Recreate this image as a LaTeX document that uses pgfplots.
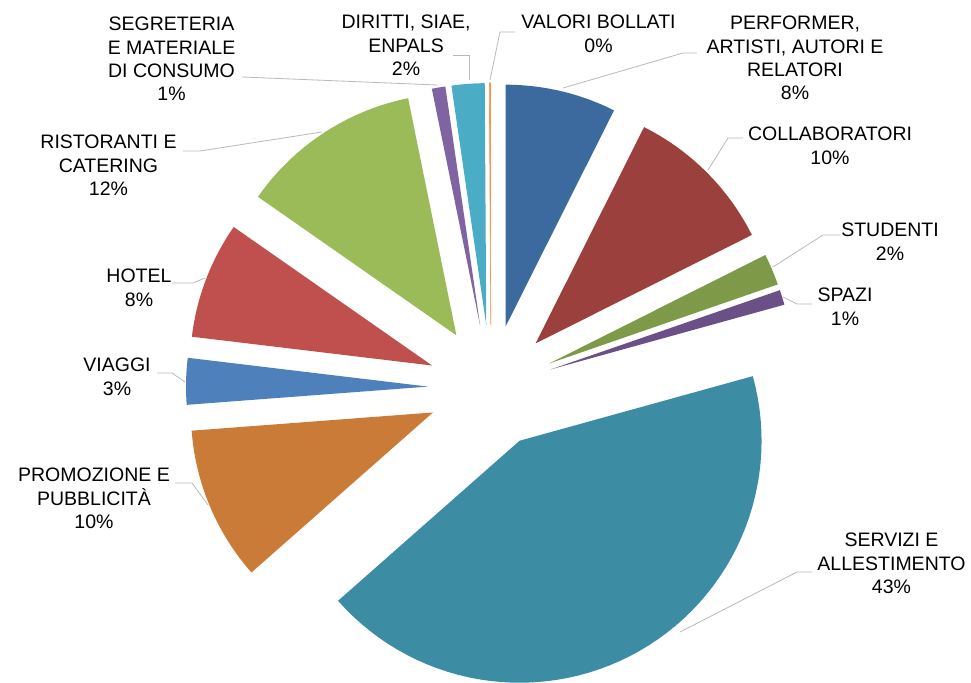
\documentclass[border=0pt]{standalone}
\usepackage{pgfplots}
\pgfplotsset{compat=1.18}
\usepackage{fontspec}
\setmainfont{Liberation Sans}
\definecolor{cPerf}{HTML}{3D6A9E}
\definecolor{cColl}{HTML}{9C403D}
\definecolor{cStud}{HTML}{7E9A48}
\definecolor{cSpaz}{HTML}{6A5087}
\definecolor{cServ}{HTML}{3C8CA3}
\definecolor{cProm}{HTML}{CB7B38}
\definecolor{cViag}{HTML}{4E80BC}
\definecolor{cHote}{HTML}{C0504D}
\definecolor{cRist}{HTML}{9BBB59}
\definecolor{cSegr}{HTML}{8064A2}
\definecolor{cDiri}{HTML}{4BACC6}
\definecolor{cValo}{HTML}{F79646}
\tikzset{
  lab/.style={anchor=north, inner sep=0pt, align=center, text=black,
    font=\fontsize{19.5}{23.3}\selectfont},
  leader/.style={draw=gray!55, line width=0.8pt}}
% #1 start (percent), #2 value (percent), #3 explosion, #4 colour
\newcommand{\slice}[4]{%
  \addplot[fill=#4, draw=none, domain=0:60, samples=61, variable=\k]
  ({491 + #3*sin(1.8*(2*#1+#2)) + ifthenelse(\k<0.5, 0, 242*sin(3.6*(#1+#2*(\k-1)/59)))},
   {294 + #3*cos(1.8*(2*#1+#2)) + ifthenelse(\k<0.5, 0, 242*cos(3.6*(#1+#2*(\k-1)/59)))});
}
\begin{document}
\begin{tikzpicture}
\begin{axis}[width=971pt, height=682pt, scale only axis,
  xmin=0, xmax=971, ymin=0, ymax=682, hide axis, clip=false]
\path (axis cs:0,0) rectangle (axis cs:971,682);
% start, value, explosion, colour
\slice{0}{7.4}{63}{cPerf}
\slice{7.4}{10.2}{63}{cColl}
\slice{17.6}{2.1}{63}{cStud}
\slice{19.7}{1.0}{63}{cSpaz}
\slice{20.7}{42.8}{60}{cServ}
\slice{63.5}{10.3}{63}{cProm}
\slice{73.8}{3.1}{63}{cViag}
\slice{76.9}{7.8}{63}{cHote}
\slice{84.7}{12.1}{63}{cRist}
\slice{96.8}{0.9}{63}{cSegr}
\slice{97.7}{2.2}{63}{cDiri}
\addplot[fill=cValo, draw=cValo, line width=0.6pt, domain=0:60, samples=61, variable=\k]
  ({491 + 63*sin(1.8*(2*99.9+0.1)) + ifthenelse(\k<0.5, 0, 242*sin(3.6*(99.9+0.1*(\k-1)/59)))},
   {294 + 63*cos(1.8*(2*99.9+0.1)) + ifthenelse(\k<0.5, 0, 242*cos(3.6*(99.9+0.1*(\k-1)/59)))});
% leader lines
\draw[leader] (axis cs:563,594) -- (axis cs:683,629) -- (axis cs:697,629);
\draw[leader] (axis cs:490,602) -- (axis cs:500,650) -- (axis cs:515,650);
\draw[leader] (axis cs:469,602) -- (axis cs:469,627) -- (axis cs:453,627);
\draw[leader] (axis cs:437,597) -- (axis cs:242,605);
\draw[leader] (axis cs:322,550) -- (axis cs:200,531) -- (axis cs:183,531);
\draw[leader] (axis cs:205,404) -- (axis cs:193,399) -- (axis cs:172,399);
\draw[leader] (axis cs:185,300) -- (axis cs:172,309) -- (axis cs:157,309);
\draw[leader] (axis cs:208,177) -- (axis cs:192,199) -- (axis cs:175,199);
\draw[leader] (axis cs:680,50) -- (axis cs:797,110) -- (axis cs:812,110);
\draw[leader] (axis cs:773,415) -- (axis cs:823,447) -- (axis cs:840,447);
\draw[leader] (axis cs:783,385) -- (axis cs:797,378) -- (axis cs:812,378);
\draw[leader] (axis cs:708,512) -- (axis cs:728,544) -- (axis cs:743,544);
% labels
\node[lab] at (axis cs:795,666) {PERFORMER,\\ARTISTI, AUTORI E\\RELATORI\\8\%};
\node[lab] at (axis cs:830,555) {COLLABORATORI\\10\%};
\node[lab] at (axis cs:890,459) {STUDENTI\\2\%};
\node[lab] at (axis cs:845,394) {SPAZI\\1\%};
\node[lab] at (axis cs:891.5,149) {SERVIZI E\\ALLESTIMENTO\\43\%};
\node[lab] at (axis cs:94,214) {PROMOZIONE E\\PUBBLICITÀ\\10\%};
\node[lab] at (axis cs:117,324) {VIAGGI\\3\%};
\node[lab] at (axis cs:139,413) {HOTEL\\8\%};
\node[lab] at (axis cs:108.5,547) {RISTORANTI E\\CATERING\\12\%};
\node[lab] at (axis cs:171.5,665) {SEGRETERIA\\E MATERIALE\\DI CONSUMO\\1\%};
\node[lab] at (axis cs:406,667) {DIRITTI, SIAE,\\ENPALS\\2\%};
\node[lab] at (axis cs:598.5,667) {VALORI BOLLATI\\0\%};
\end{axis}
\end{tikzpicture}
\end{document}
